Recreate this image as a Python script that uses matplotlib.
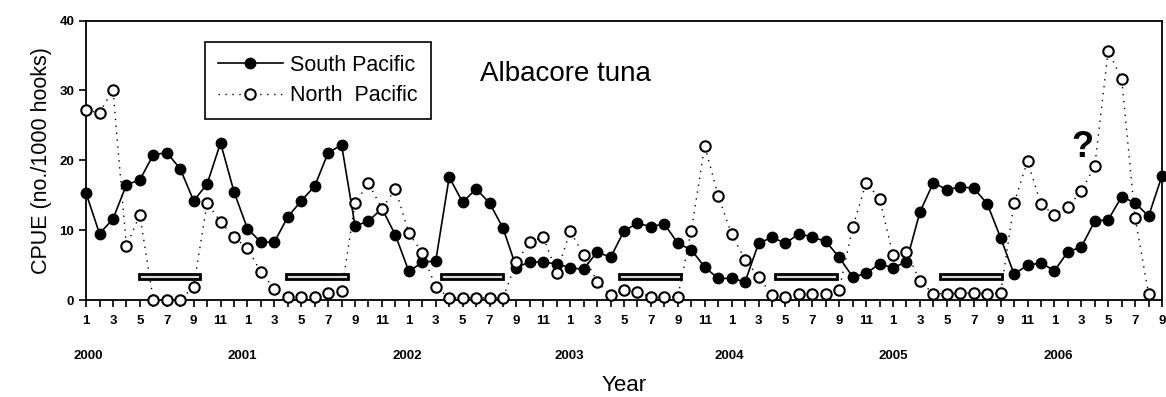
import numpy as np
import matplotlib.pyplot as plt
from matplotlib.patches import Rectangle
from matplotlib.lines import Line2D

plt.rcParams['font.family'] = ['Liberation Sans', 'DejaVu Sans']

# Monthly CPUE, Jan 2000 .. Sep 2006
south = [15.3, 9.5, 11.6, 16.5, 17.2, 20.8, 21.1, 18.8, 14.2, 16.6, 22.5, 15.5,
         10.2, 8.3, 8.3, 11.9, 14.2, 16.3, 21.1, 22.2, 10.6, 11.3, 13.1, 9.3,
         4.1, 5.4, 5.6, 17.6, 14.0, 15.9, 13.9, 10.3, 4.6, 5.5, 5.4, 5.2,
         4.6, 4.4, 6.9, 6.1, 9.9, 11.0, 10.5, 10.9, 8.1, 7.2, 4.7, 3.1,
         3.1, 2.6, 8.1, 9.0, 8.1, 9.5, 9.0, 8.4, 6.1, 3.3, 3.8, 5.2,
         4.6, 5.5, 12.6, 16.8, 15.8, 16.2, 16.0, 13.8, 8.9, 3.7, 5.0, 5.3,
         4.2, 6.9, 7.6, 11.3, 11.5, 14.8, 13.9, 12.0, 17.8]
north = [27.2, 26.8, 30.1, 7.7, 12.2, 0.0, 0.0, 0.0, 1.9, 13.9, 11.2, 9.0,
         7.4, 4.0, 1.6, 0.4, 0.4, 0.4, 1.0, 1.3, 13.9, 16.7, 13.1, 15.9,
         9.6, 6.7, 1.9, 0.3, 0.3, 0.3, 0.3, 0.3, 5.5, 8.3, 9.0, 3.9,
         9.9, 6.4, 2.6, 0.7, 1.4, 1.2, 0.4, 0.4, 0.5, 9.9, 22.1, 14.9,
         9.4, 5.8, 3.3, 0.7, 0.5, 0.8, 0.8, 0.9, 1.5, 10.4, 16.8, 14.5,
         6.4, 6.9, 2.7, 0.9, 0.9, 1.0, 1.0, 0.9, 1.0, 13.9, 19.9, 13.7,
         12.2, 13.3, 15.6, 19.2, 35.7, 31.6, 11.7, 0.9, np.nan]
years = ['2000', '2001', '2002', '2003', '2004', '2005', '2006']
# season bars: start month index and length
season_start = [3.9, 14.9, 26.4, 39.6, 51.2, 63.5]
season_len = 4.6

months = np.arange(len(south))

fig = plt.figure(figsize=(11.66, 3.97), dpi=100)
ax = fig.add_axes([0.0738, 0.2443, 0.9228, 0.7037])

ax.plot(months, south, color='black', lw=1.2, marker='o', ms=7.5,
        mfc='black', mec='black', zorder=3, clip_on=False,
        label='South Pacific')
ax.plot(months, north, color='black', lw=1.0, ls=(0, (1, 4)), marker='o',
        ms=7.5, mfc='white', mec='black', mew=1.5, zorder=4, clip_on=False,
        label='North  Pacific')

for s in season_start:
    ax.add_patch(Rectangle((s, 3.0), season_len, 0.75, facecolor='#d8d8d8',
                           edgecolor='black', lw=2.0, zorder=2))

ax.set_xlim(0, 80)
ax.set_ylim(0, 40)
ax.set_yticks([0, 10, 20, 30, 40])
ax.set_xticks(months)
ax.set_xticklabels([str(m % 12 + 1) if m % 2 == 0 else '' for m in months])
ax.tick_params(axis='both', direction='out', length=5, width=1.2,
               labelsize=9.5)
ax.tick_params(axis='x', pad=6)
for lab in ax.get_xticklabels() + ax.get_yticklabels():
    lab.set_fontweight('bold')
for sp in ax.spines.values():
    sp.set_linewidth(1.3)

# year labels under the month ticks
year_pos = [0.2, 11.6, 23.9, 35.9, 47.8, 60.0, 72.3]
for pos, yr in zip(year_pos, years):
    ax.text(pos, -0.202, yr, transform=ax.get_xaxis_transform(),
            ha='center', va='center', fontsize=9.5, fontweight='bold')

ax.set_xlabel('Year', fontsize=16, labelpad=34)
ax.set_ylabel('CPUE (no./1000 hooks)', fontsize=15.5, labelpad=5)

ax.text(0.366, 0.81, 'Albacore tuna', transform=ax.transAxes,
        fontsize=20, ha='left', va='center')
ax.text(74.1, 19.4, '?', fontsize=26, fontweight='bold', ha='center',
        va='bottom')

handles = [Line2D([], [], color='black', lw=1.2, marker='o', ms=7.5),
           Line2D([], [], color='black', lw=1.0, ls=(0, (1, 4)), marker='o',
                  ms=7.5, mfc='white', mew=1.5)]
leg = ax.legend(handles, ['South Pacific', 'North  Pacific'],
                loc='upper left', bbox_to_anchor=(0.1106, 0.924),
                borderaxespad=0, fontsize=15.5, fancybox=False, framealpha=1,
                edgecolor='black', handlelength=3.0, labelspacing=0.45,
                borderpad=0.6, handletextpad=0.35)
leg.get_frame().set_linewidth(1.2)

fig.savefig('out.png', dpi=100)
